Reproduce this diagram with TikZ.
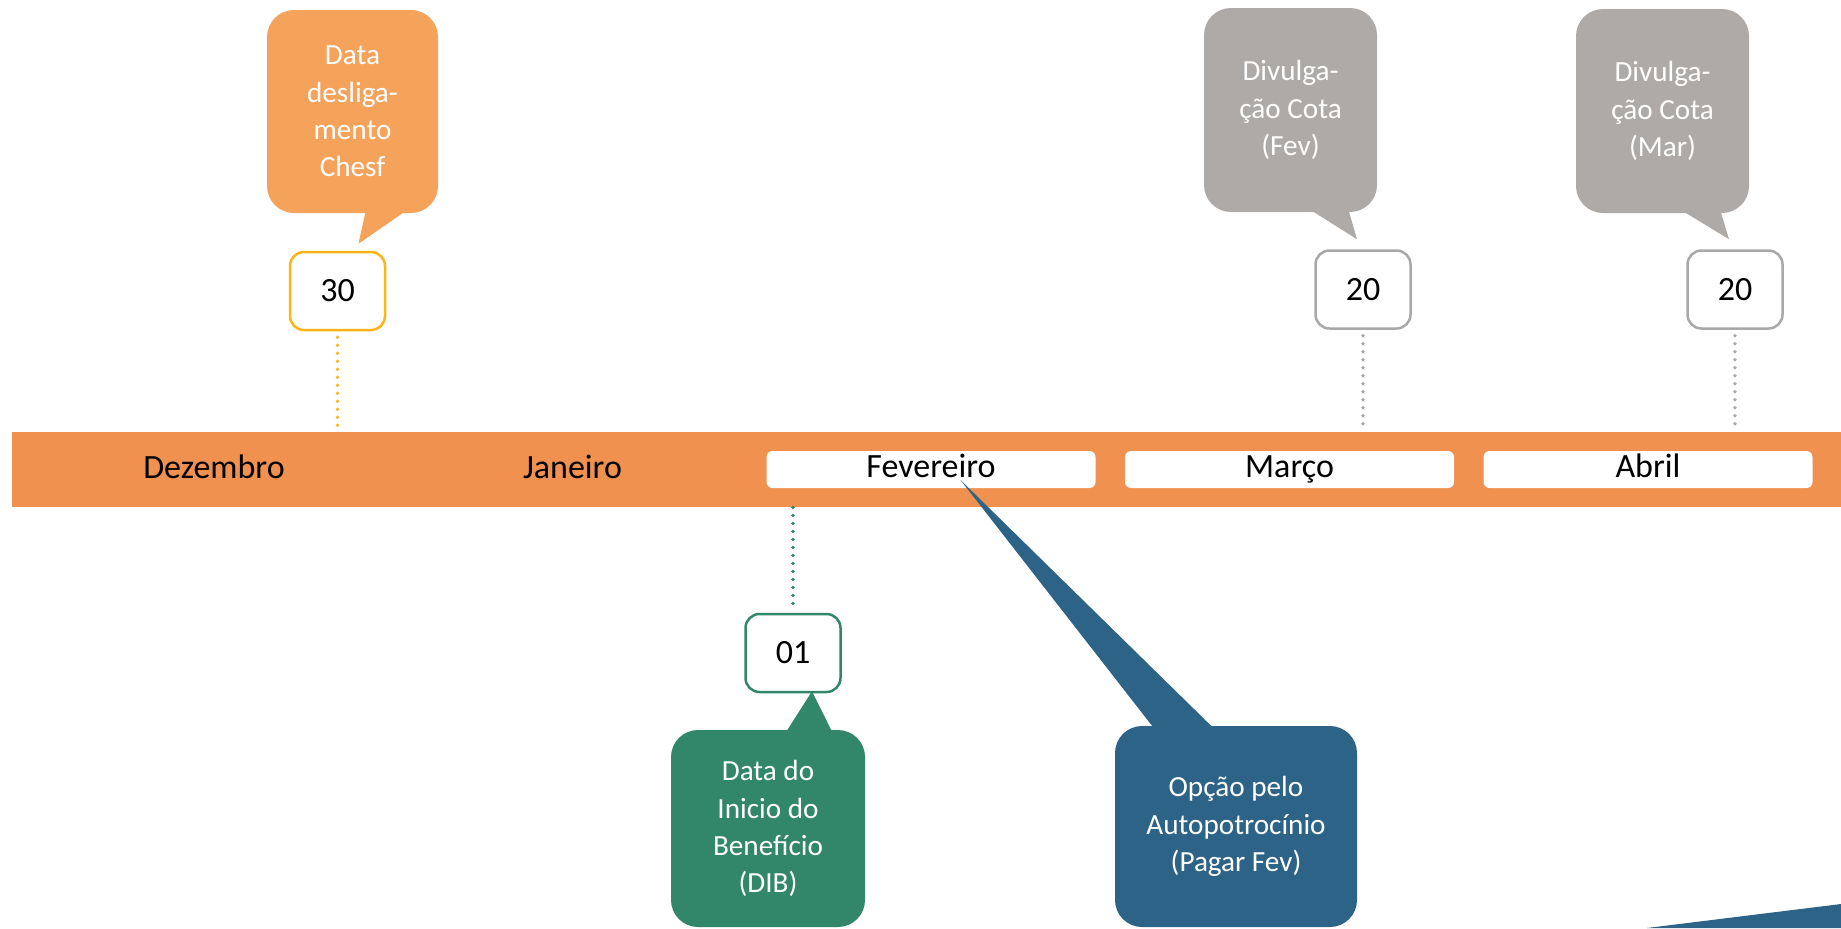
\documentclass[tikz,border=0pt]{standalone}
\usepackage{fontspec}
\setmainfont{Carlito}
\usepackage{xcolor}
\usepackage{tikz}
\usetikzlibrary{calc}
\usetikzlibrary{positioning}

\definecolor{barorange}{HTML}{F0914F}
\definecolor{chesforange}{HTML}{F5A25B}
\definecolor{amber}{HTML}{FDB515}
\definecolor{cotagray}{HTML}{ADAAA8}
\definecolor{boxgray}{HTML}{A8A8A8}
\definecolor{dibgreen}{HTML}{32876B}
\definecolor{opcaoblue}{HTML}{2D6386}

\tikzset{
	datebox/.style={draw,line width=1.25pt,fill=white,rounded corners=7pt,minimum width=47.5pt,minimum height=39pt,inner sep=0pt,font=\fontsize{17}{20}\selectfont},
	balloon/.style={rounded corners=13.5pt,text=white,align=center,inner sep=0pt,font=\fontsize{14.6}{18.6}\selectfont},
	monthtext/.style={inner sep=0pt,text height=11pt,text depth=3pt,font=\fontsize{17}{20}\selectfont},
	monthbox/.style={monthtext,fill=white,rounded corners=3pt,minimum width=164.5pt,minimum height=18.5pt},
	dotline/.style={line width=1.9pt,line cap=round,dash pattern=on 0pt off 4pt}
}

\begin{document}
\begin{tikzpicture}[x=0.5pt,y=-0.5pt]
		\useasboundingbox (0,0) rectangle (1841,928);
		% linha do tempo
		\node[fill=barorange,minimum width=914.5pt,minimum height=37.5pt,inner sep=0pt] (bar) at (926.5,469.5) {};
		\node[monthtext] (dez) at (214,470) {Dezembro};
		\node[monthtext] (jan) at (572.5,470) {Janeiro};
		\foreach \name/\mes/\x in {fev/Fevereiro/931,mar/Março/1289.5,abr/Abril/1648}
			\node[monthbox] (\name) at (\x,469.5) {\mes};
		% datas
		\node[datebox,draw=amber] (d30) at (337.5,291) {30};
		\node[datebox,draw=boxgray] (d20fev) at (1363,289.5) {20};
		\node[datebox,draw=boxgray] (d20mar) at (1735,289.5) {20};
		\node[datebox,draw=dibgreen] (d01) at (793,653) {01};
		\draw[dotline,amber] ($(d30.south)+(0,6)$) -- (d30.south |- bar.north);
		\draw[dotline,boxgray] ($(d20fev.south)+(0,6)$) -- (d20fev.south |- bar.north);
		\draw[dotline,boxgray] ($(d20mar.south)+(0,6)$) -- (d20mar.south |- bar.north);
		\draw[dotline,dibgreen] (d01.north |- bar.south) -- ($(d01.north)+(0,-6)$);
		% baloes
		\node[balloon,fill=chesforange,minimum width=85.5pt,minimum height=101.5pt] (chesf) at (352.5,111.5) {Data\\desliga-\\mento\\Chesf};
		\node[balloon,fill=cotagray,minimum width=86.5pt,minimum height=102pt] (cotafev) at (1290.5,110) {Divulga-\\ção Cota\\(Fev)};
		\node[balloon,fill=cotagray,minimum width=86.5pt,minimum height=102pt] (cotamar) at (1662.5,111) {Divulga-\\ção Cota\\(Mar)};
		\node[balloon,fill=dibgreen,minimum width=97pt,minimum height=98.5pt] (dib) at (768,828.5) {Data do\\Inicio do\\Benefício\\(DIB)};
		\node[balloon,fill=opcaoblue,minimum width=121pt,minimum height=100.5pt] (opcao) at (1236,826.5) {Opção pelo\\Autopotrocínio\\(Pagar Fev)};
		\fill[chesforange] ($(chesf.south)+(13.5,-4)$) -- ($(chesf.south)+(55.5,-4)$) -- ($(d30.north)+(21,-7)$) -- cycle;
		\fill[cotagray] ($(cotafev.south)+(17.5,-4)$) -- ($(cotafev.south)+(57.5,-4)$) -- ($(d20fev.north)+(-6,-10)$) -- cycle;
		\fill[cotagray] ($(cotamar.south)+(17.5,-4)$) -- ($(cotamar.south)+(57.5,-4)$) -- ($(d20mar.north)+(-6,-10)$) -- cycle;
		\fill[dibgreen] ($(dib.north)+(17,4)$) -- ($(dib.north)+(65,4)$) -- ($(d01.south)+(19,-2)$) -- cycle;
		\fill[opcaoblue] ($(opcao.north)+(-81,4)$) -- ($(opcao.north)+(-21,4)$) -- ($(fev.center)+(29.5,10.5)$) -- cycle;
		% canto
		\fill[opcaoblue] (1647,928) -- (1841,904) -- (1841,928) -- cycle;
	\end{tikzpicture}
\end{document}
